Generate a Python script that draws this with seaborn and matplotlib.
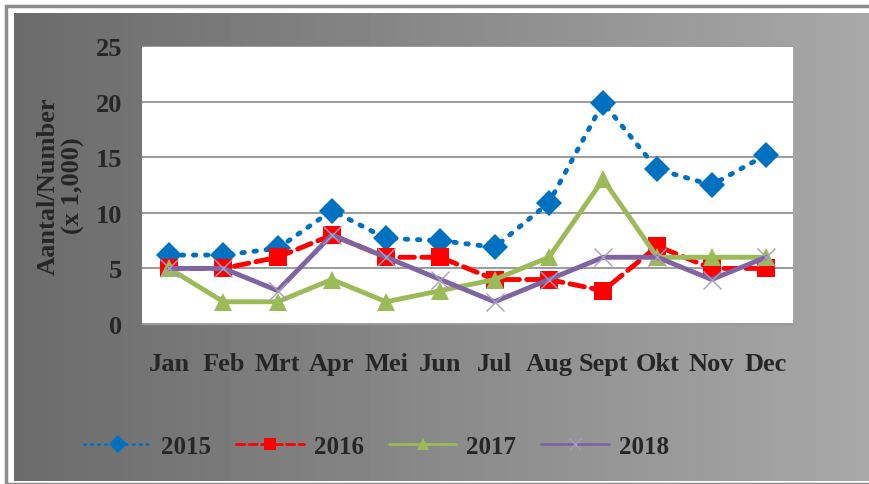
import numpy as np
import pandas as pd
import matplotlib.pyplot as plt
import seaborn as sns

# maanden en waarden (x 1,000)
maanden = ["Jan", "Feb", "Mrt", "Apr", "Mei", "Jun", "Jul", "Aug", "Sept", "Okt", "Nov", "Dec"]
jaren = ["2015", "2016", "2017", "2018"]
v2015 = [6.2, 6.2, 6.8, 10.2, 7.7, 7.5, 6.9, 10.9, 19.9, 13.9, 12.5, 15.2]
v2016 = [5, 5, 6, 8, 6, 6, 4, 4, 3, 7, 5, 5]
v2017 = [5, 2, 2, 4, 2, 3, 4, 6, 13, 6, 6, 6]
v2018 = [5, 5, 3, 8, 6, 4, 2, 4, 6, 6, 4, 6]

df = pd.DataFrame({"maand": maanden * 4,
                   "jaar": np.repeat(jaren, len(maanden)),
                   "aantal": v2015 + v2016 + v2017 + v2018})

sns.set_style("white")
plt.rcParams["font.family"] = ["Liberation Serif", "DejaVu Serif"]
plt.rcParams["font.weight"] = "bold"

fig = plt.figure(figsize=(8.69, 4.85), dpi=100, facecolor="white")

# grijze achtergrond met verloop
bg = fig.add_axes([14 / 869, 3 / 485, 855 / 869, 468 / 485])
grad = np.linspace(0, 1, 256).reshape(1, -1)
bg.imshow(grad, aspect="auto", cmap="gray", vmin=-1.75, vmax=2.42, extent=[0, 1, 0, 1])
bg.set_axis_off()
fig.patches.append(plt.Rectangle((6 / 869, 0.5 / 485), 870 / 869, 478 / 485, transform=fig.transFigure,
                                 fill=False, edgecolor="#8c8c8c", lw=2.5))

ax = fig.add_axes([142 / 869, 1 - 325 / 485, 651 / 869, 278 / 485])
ax.set_facecolor("white")

palette = {"2015": "#0070C0", "2016": "#FF0000", "2017": "#9BBB59", "2018": "#8064A2"}
markers = {"2015": "D", "2016": "s", "2017": "^", "2018": "X"}
dashes = {"2015": (0.5, 2.0), "2016": (3, 1.5), "2017": "", "2018": ""}

sns.lineplot(data=df, x="maand", y="aantal", hue="jaar", style="jaar", palette=palette,
             markers=markers, dashes=dashes, lw=3.5, markersize=13, markeredgewidth=0,
             dash_capstyle="round", sort=False, ax=ax, legend="full")

# 2018 markers as thin crosses
for line in ax.lines:
    if line.get_color() == palette["2018"]:
        line.set_marker("x")
        line.set_markersize(13)
        line.set_markeredgewidth(1)
        line.set_markeredgecolor("#a89cc0")

ax.set_xlim(-0.5, 11.5)
ax.set_ylim(0, 25)
ax.set_yticks([0, 5, 10, 15, 20, 25])
ax.yaxis.grid(True, color="#8a8a8a", lw=1.2)
ax.set_axisbelow(True)
for s in ["top", "right", "left"]:
    ax.spines[s].set_visible(False)
ax.spines["bottom"].set_color("#9a9a9a")
ax.tick_params(axis="y", length=0, pad=14, labelsize=19)
ax.tick_params(axis="x", length=0, pad=20, labelsize=19)
ax.set_xticks(np.arange(-0.5, 12, 1), minor=True)
ax.tick_params(axis="x", which="minor", length=5, color="#9a9a9a")
ax.set_xlabel("")
ax.set_ylabel("Aantal/Number\n(x 1,000)", fontsize=19, fontweight="bold", labelpad=8, linespacing=1.1)

handles, labels = ax.get_legend_handles_labels()
for h in handles:
    h.set_markersize(9)
    h.set_linewidth(2)
ax.legend(handles, labels, loc="center", bbox_to_anchor=(0.36, -0.44), ncol=4, frameon=False,
          fontsize=18, handlelength=2.7, columnspacing=1.0, handletextpad=0.4)

fig.savefig("out.png", dpi=100, facecolor="white")
